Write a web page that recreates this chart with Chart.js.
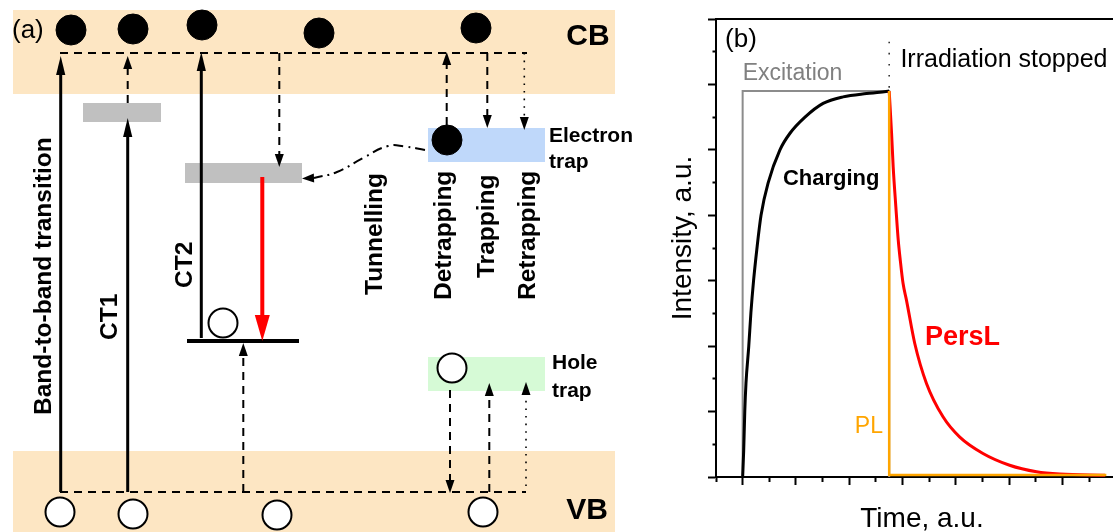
<!DOCTYPE html>
<html>
<head>
<meta charset="utf-8">
<script src="https://cdn.jsdelivr.net/npm/chart.js@4.4.1/dist/chart.umd.min.js"></script>
<style>
  html, body { margin: 0; padding: 0; background: #fff; overflow: hidden; }
  #wrap { position: relative; width: 1113px; height: 532px; }
  canvas { position: absolute; top: 0; }
  #scheme { left: 0; }
  #kinetics { left: 640px; }
</style>
</head>
<body>
<div id="wrap">
  <canvas id="scheme" width="640" height="532"></canvas>
  <canvas id="kinetics" width="473" height="532"></canvas>
</div>
<script>
// ===================== (a) energy-level scheme =====================
// Scheme units: x runs across the panel, d runs downwards (0 = top edge).
const bandNames   = ['CB', 'VB'];
const bandX       = [[13, 615], [13, 615]];
const bandD       = [[10, 94], [451, 532]];

const levelNames  = ['CT1', 'CT2', 'Electron trap', 'Hole trap'];
const levelX      = [[83, 161], [185, 302], [428, 545], [428, 545]];
const levelD      = [[103, 122], [163, 183], [128, 162], [357, 391]];
const levelKinds  = ['ct', 'ct', 'electron', 'hole'];

const groundX     = [187, 299];
const groundD     = [341, 341];

const electronX   = [71, 133, 202, 319, 476, 447];
const electronD   = [30, 29, 25, 33, 28, 140];
const holeX       = [223, 452, 60, 133, 277, 483];
const holeD       = [323, 368, 512, 514, 515, 512];

// horizontal carrier paths inside CB and VB
const pathX       = [[60, 527], [60, 526]];
const pathD       = [[53, 53], [492, 492]];

// vertical transitions: x, start, arrow tip, line kind
const transX      = [60.7, 127.7, 127.7, 201.3, 279.3, 262.3, 243.3, 446.7, 487.3, 524.3, 450, 489.3, 526];
const transFrom   = [492, 492, 103, 338, 53, 177, 492, 125, 53, 53, 390, 492, 486];
const transTo     = [56, 118, 56, 52, 167, 341, 343, 52, 128, 130, 493, 383, 382];
const transKind   = ['solid', 'solid', 'dashed', 'solid', 'dashed', 'red', 'dashed',
                     'dashed', 'dashed', 'dotted', 'dashed', 'dashed', 'dotted'];

// tunnelling path from the electron trap to the CT2 level
const tunnelX     = [425, 405, 388, 363, 337, 314];
const tunnelD     = [150, 146.5, 146, 158, 172, 178];
const tunnelTip   = [302, 178.5];

const sideLabels  = ['Band-to-band transition', 'CT1', 'CT2', 'Tunnelling', 'Detrapping', 'Trapping', 'Retrapping'];
const sideLabelX  = [51, 116.5, 192, 382, 451, 494, 535];
const sideLabelD  = [415, 340, 288, 295, 300, 278, 300];

const FONT = '"Liberation Sans", Arial, Helvetica, sans-serif';

const kindStyle = {
  solid:  { color: '#000000', width: 3,   dash: [],            head: [19, 4.6] },
  dashed: { color: '#000000', width: 2,   dash: [8, 6],        head: [13, 4.5] },
  dotted: { color: '#000000', width: 1.6, dash: [1.6, 6],      head: [13, 4.5] },
  red:    { color: '#ff0000', width: 4,   dash: [],            head: [26, 7.5] },
  tunnel: { color: '#000000', width: 2,   dash: [10, 5, 2, 5], head: [12, 4.5] }
};
const fillColors = {
  band: '#fde6c3', ct: '#c0c0c0', electron: '#bfd8fa', hole: '#d6fad6'
};

const schemeSets = [];

pathX.forEach((xs, i) => {
  const st = kindStyle.dashed;
  schemeSets.push({
    data: [{ x: xs[0], y: pathD[i][0] }, { x: xs[1], y: pathD[i][1] }],
    borderColor: st.color, borderWidth: st.width, borderDash: st.dash,
    pointRadius: 0, order: 2
  });
});

transX.forEach((x, i) => {
  const st = kindStyle[transKind[i]];
  const dir = Math.sign(transTo[i] - transFrom[i]);
  schemeSets.push({
    data: [{ x, y: transFrom[i] }, { x, y: transTo[i] - dir * st.head[0] * 0.7 }],
    arrowTip: { x, y: transTo[i] }, arrowHead: st.head, arrowColor: st.color,
    borderColor: st.color, borderWidth: st.width, borderDash: st.dash,
    pointRadius: 0, order: 2
  });
});

schemeSets.push({
  data: tunnelX.map((x, i) => ({ x, y: tunnelD[i] })),
  arrowTip: { x: tunnelTip[0], y: tunnelTip[1] }, arrowHead: kindStyle.tunnel.head, arrowColor: '#000',
  borderColor: '#000', borderWidth: kindStyle.tunnel.width, borderDash: kindStyle.tunnel.dash,
  tension: 0.45, pointRadius: 0, order: 2
});

schemeSets.push({
  data: groundX.map((x, i) => ({ x, y: groundD[i] })),
  borderColor: '#000', borderWidth: 4, pointRadius: 0, order: 3
});

schemeSets.push({
  data: electronX.map((x, i) => ({ x, y: electronD[i] })),
  showLine: false, pointRadius: 15, pointHoverRadius: 15,
  pointBackgroundColor: '#000', pointBorderColor: '#000', pointBorderWidth: 1, order: 0
});
schemeSets.push({
  data: holeX.map((x, i) => ({ x, y: holeD[i] })),
  showLine: false, pointRadius: 14.5, pointHoverRadius: 14.5,
  pointBackgroundColor: '#fff', pointBorderColor: '#000', pointBorderWidth: 2, order: 0
});

const schemeBoxes = {
  id: 'schemeBoxes',
  beforeDatasetsDraw(chart) {
    const { ctx, scales: { x: sx, y: sy } } = chart;
    const box = (xr, dr, color) => {
      const x0 = sx.getPixelForValue(xr[0]), x1 = sx.getPixelForValue(xr[1]);
      const y0 = sy.getPixelForValue(dr[0]), y1 = sy.getPixelForValue(dr[1]);
      ctx.fillStyle = color;
      ctx.fillRect(x0, y0, x1 - x0, y1 - y0);
    };
    ctx.save();
    bandNames.forEach((n, i) => box(bandX[i], bandD[i], fillColors.band));
    levelNames.forEach((n, i) => box(levelX[i], levelD[i], fillColors[levelKinds[i]]));
    ctx.restore();
  }
};

const arrowHeads = {
  id: 'arrowHeads',
  afterDatasetsDraw(chart) {
    const { ctx, scales: { x: sx, y: sy } } = chart;
    chart.data.datasets.forEach((ds, i) => {
      if (!ds.arrowTip) return;
      const pts = chart.getDatasetMeta(i).data;
      const last = pts[pts.length - 1];
      const tx = sx.getPixelForValue(ds.arrowTip.x), ty = sy.getPixelForValue(ds.arrowTip.y);
      let dx = tx - last.x, dy = ty - last.y;
      const len = Math.hypot(dx, dy) || 1;
      dx /= len; dy /= len;
      const [hl, hw] = ds.arrowHead;
      const bx = tx - dx * hl, by = ty - dy * hl;
      ctx.save();
      ctx.fillStyle = ds.arrowColor;
      ctx.beginPath();
      ctx.moveTo(tx, ty);
      ctx.lineTo(bx - dy * hw, by + dx * hw);
      ctx.lineTo(bx + dy * hw, by - dx * hw);
      ctx.closePath();
      ctx.fill();
      ctx.restore();
    });
  }
};

const schemeText = {
  id: 'schemeText',
  afterDraw(chart) {
    const { ctx, scales: { x: sx, y: sy } } = chart;
    const px = v => sx.getPixelForValue(v), py = v => sy.getPixelForValue(v);
    ctx.save();
    ctx.fillStyle = '#000';
    ctx.textBaseline = 'middle';
    ctx.textAlign = 'left';
    ctx.font = `26px ${FONT}`;
    ctx.fillText('(a)', px(12), py(31));
    ctx.textAlign = 'center';
    ctx.font = `bold 30px ${FONT}`;
    ctx.fillText(bandNames[0], px(588), py(37));
    ctx.fillText(bandNames[1], px(587), py(511));
    ctx.textAlign = 'left';
    ctx.textBaseline = 'alphabetic';
    ctx.font = `bold 21px ${FONT}`;
    ctx.fillText('Electron', px(549), py(142));
    ctx.fillText('trap', px(549), py(168));
    ctx.fillText('Hole', px(552), py(369));
    ctx.fillText('trap', px(552), py(397));
    ctx.font = `bold 24.5px ${FONT}`;
    sideLabels.forEach((t, i) => {
      ctx.save();
      ctx.translate(px(sideLabelX[i]), py(sideLabelD[i]));
      ctx.rotate(-Math.PI / 2);
      ctx.fillText(t, 0, 0);
      ctx.restore();
    });
    ctx.restore();
  }
};

new Chart(document.getElementById('scheme'), {
  type: 'line',
  data: { datasets: schemeSets },
  options: {
    responsive: false, animation: false, events: [],
    layout: { padding: 0, autoPadding: false },
    plugins: { legend: { display: false }, tooltip: { enabled: false } },
    scales: {
      x: { type: 'linear', min: 0, max: 640, display: false },
      y: { type: 'linear', min: 0, max: 532, reverse: true, display: false }
    }
  },
  plugins: [schemeBoxes, arrowHeads, schemeText]
});

// ===================== (b) charging and afterglow kinetics =====================
const excitationTime  = [1, 1, 6.5, 6.5];
const excitationLevel = [0, 5.9, 5.9, 0];

const chargingTime      = [1.0, 1.04, 1.08, 1.125, 1.23, 1.31, 1.41, 1.53, 1.69, 1.96, 2.4, 2.77, 3.34, 4.02, 4.77, 5.65, 6.15, 6.5];
const chargingIntensity = [0, 0.41, 1.0, 1.43, 2.0, 2.51, 3.0, 3.47, 4.0, 4.5, 5.0, 5.25, 5.5, 5.71, 5.81, 5.86, 5.88, 5.9];

const persLTime      = [6.5, 6.59, 6.65, 6.75, 6.84, 6.92, 7.02, 7.15, 7.46, 7.9, 8.52, 9.15, 10.02, 11.02, 12.03, 12.9, 14.6];
const persLIntensity = [5.9, 5.25, 4.74, 4.13, 3.62, 3.3, 2.96, 2.7, 2.04, 1.43, 0.92, 0.61, 0.36, 0.18, 0.08, 0.045, 0.028];

const plTime      = [6.5, 6.5, 14.65];
const plIntensity = [5.9, 0.03, 0.03];

const stopMarkTime  = [6.5, 6.5];
const stopMarkLevel = [5.95, 6.7];

const pts = (xs, ys) => xs.map((x, i) => ({ x, y: ys[i] }));

const kineticsText = {
  id: 'kineticsText',
  afterDraw(chart) {
    const { ctx, scales: { x: sx, y: sy } } = chart;
    const px = v => sx.getPixelForValue(v), py = v => sy.getPixelForValue(v);
    ctx.save();
    ctx.textAlign = 'left';
    ctx.textBaseline = 'middle';
    ctx.fillStyle = '#000';
    ctx.font = `26px ${FONT}`;
    ctx.fillText('(b)', px(0.34), py(6.68));
    ctx.textBaseline = 'alphabetic';
    ctx.fillStyle = '#808080';
    ctx.font = `23px ${FONT}`;
    ctx.fillText('Excitation', px(1.0), py(6.07));
    ctx.fillStyle = '#000';
    ctx.font = `25px ${FONT}`;
    ctx.fillText('Irradiation stopped', px(6.92), py(6.27));
    ctx.font = `bold 22px ${FONT}`;
    ctx.fillText('Charging', px(2.51), py(4.46));
    ctx.fillStyle = '#ff0000';
    ctx.font = `bold 27px ${FONT}`;
    ctx.fillText('PersL', px(7.84), py(2.01));
    ctx.fillStyle = '#ffa500';
    ctx.font = `23px ${FONT}`;
    ctx.fillText('PL', px(5.21), py(0.67));
    // axis titles
    ctx.fillStyle = '#000';
    ctx.font = `28px ${FONT}`;
    ctx.textAlign = 'center';
    ctx.fillText('Time, a.u.', 282, 527);
    ctx.save();
    ctx.translate(51, 238);
    ctx.rotate(-Math.PI / 2);
    ctx.fillText('Intensity, a.u.', 0, 0);
    ctx.restore();
    ctx.restore();
  }
};

new Chart(document.getElementById('kinetics'), {
  type: 'line',
  data: {
    datasets: [
      { label: 'Excitation', data: pts(excitationTime, excitationLevel),
        borderColor: '#8c8c8c', borderWidth: 2, pointRadius: 0, order: 5 },
      { label: 'Charging', data: pts(chargingTime, chargingIntensity),
        borderColor: '#000', borderWidth: 3, pointRadius: 0, cubicInterpolationMode: 'monotone', order: 4 },
      { label: 'PersL', data: pts(persLTime, persLIntensity),
        borderColor: '#ff0000', borderWidth: 3, pointRadius: 0, cubicInterpolationMode: 'monotone', order: 3 },
      { label: 'PL', data: pts(plTime, plIntensity),
        borderColor: '#ffa500', borderWidth: 2.5, pointRadius: 0, order: 2 },
      { label: 'Irradiation stopped', data: pts(stopMarkTime, stopMarkLevel),
        borderColor: '#333', borderWidth: 1.6, borderDash: [1.6, 9.5], pointRadius: 0, order: 1 }
    ]
  },
  options: {
    responsive: false, animation: false, events: [],
    layout: { padding: { top: 19, left: 0, right: 0, bottom: 0 }, autoPadding: false },
    plugins: { legend: { display: false }, tooltip: { enabled: false } },
    scales: {
      x: {
        type: 'linear', min: 0, max: 14.9,
        ticks: { stepSize: 1, display: false, includeBounds: false },
        grid: {
          drawOnChartArea: false, drawTicks: true, tickLength: 8, tickWidth: 2, tickColor: '#000',
          tickBorderDash: c => (Math.round(c.tick.value) % 2 === 1 ? [] : [4, 100])
        },
        border: { display: true, color: '#000', width: 2 },
        afterFit: s => { s.height = 55; }
      },
      xTop: {
        type: 'linear', position: 'top', min: 0, max: 14.9,
        ticks: { display: false }, grid: { display: false },
        border: { display: true, color: '#000', width: 2 },
        afterFit: s => { s.height = 0; }
      },
      y: {
        type: 'linear', min: 0, max: 7,
        ticks: { stepSize: 0.5, display: false, includeBounds: false },
        grid: {
          drawOnChartArea: false, drawTicks: true, tickLength: 8, tickWidth: 2, tickColor: '#000',
          tickBorderDash: c => (Number.isInteger(Math.round(c.tick.value * 2) / 2) ? [] : [0, 4.5, 4, 100])
        },
        border: { display: true, color: '#000', width: 2 },
        afterFit: s => { s.width = 76; }
      }
    }
  },
  plugins: [kineticsText]
});
</script>
</body>
</html>
